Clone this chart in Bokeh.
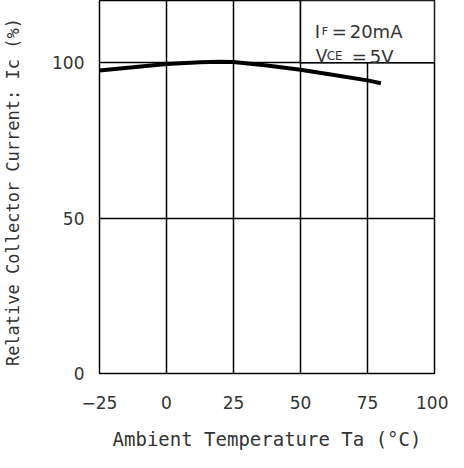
from bokeh.plotting import figure
from bokeh.models import Range1d, FixedTicker
from bokeh.core.properties import value
from bokeh.embed import file_html
from bokeh.resources import INLINE

# Data
temperature = [-25, -12.5, 0, 12.5, 20, 25, 37.5, 50, 62.5, 75, 80]
relative_ic = [97.5, 98.5, 99.6, 100.1, 100.3, 100.2, 99.1, 97.7, 96.0, 94.3, 93.4]
x_ticks = [-25, 0, 25, 50, 75, 100]
y_ticks = [0, 50, 100]
x_tick_labels = {-25: "\u221225", 0: "0", 25: "25", 50: "50", 75: "75", 100: "100"}

FONT = "DejaVu Sans"
MONO = "DejaVu Sans Mono"
TXT = "#333333"

p = figure(width=448, height=452, output_backend="svg", toolbar_location=None,
           x_range=Range1d(-25, 100), y_range=Range1d(0, 120),
           min_border_left=93, min_border_right=14, min_border_top=0, min_border_bottom=79)

p.outline_line_color = "black"
p.outline_line_width = 1.5

for ax in (p.xaxis[0], p.yaxis[0]):
    ax.axis_line_color = None
    ax.major_tick_line_color = None
    ax.minor_tick_line_color = None
    ax.major_label_text_font = FONT
    ax.major_label_text_font_size = "17px"
    ax.major_label_text_color = TXT
    ax.axis_label_text_font = MONO
    ax.axis_label_text_font_style = "normal"
    ax.axis_label_text_color = TXT

p.xaxis.axis_label_text_font_size = "19px"
p.yaxis.axis_label_text_font_size = "17px"
p.xaxis.ticker = FixedTicker(ticks=x_ticks)
p.yaxis.ticker = FixedTicker(ticks=y_ticks)
p.xaxis.major_label_overrides = x_tick_labels
p.xaxis.major_label_standoff = 16
p.yaxis.major_label_standoff = 9
p.xaxis.axis_label_standoff = 16
p.yaxis.axis_label_standoff = 26
p.xaxis.axis_label = "Ambient Temperature Ta (\u00b0C)"
p.yaxis.axis_label = "Relative Collector Current:  Ic (%)"

p.xgrid.ticker = FixedTicker(ticks=[0, 25, 50, 75])
p.ygrid.ticker = FixedTicker(ticks=[50, 100])
for g in (p.xgrid[0], p.ygrid[0]):
    g.grid_line_color = "black"
    g.grid_line_width = 1.5
    g.grid_line_alpha = 1.0

# condition box (hides grid inside)
p.quad(left=[50], right=[100], bottom=[100], top=[120],
       fill_color="white", line_color="black", line_width=1.5)

p.line(temperature, relative_ic, line_color="black", line_width=4)

# annotation text
ax_x = 55.3
def t(y, s, size, dx):
    p.text(x=[ax_x], y=[y], text=[s], text_font=value(FONT), text_font_size=size,
           text_color=TXT, text_baseline="alphabetic", x_offset=dx)

t(110.0, "I", "18px", 0)
t(110.0, "F", "11px", 7)
t(110.0, "=", "18px", 17)
t(110.0, "20mA", "18px", 35)
t(102.0, "V", "17px", 1)
t(102.0, "CE", "12px", 12)
t(102.0, "=", "18px", 37)
t(102.0, "5V", "18px", 55)

open("out.html", "w").write(file_html(p, INLINE))
